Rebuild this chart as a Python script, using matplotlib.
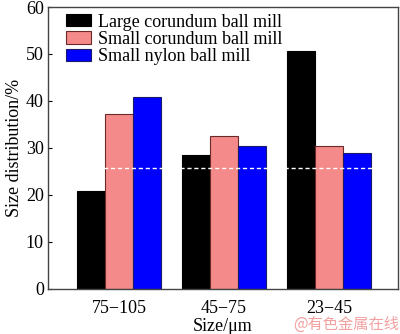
import numpy as np
import matplotlib
matplotlib.use('Agg')
import matplotlib.pyplot as plt

categories = ["75\u2212105", "45\u221275", "23\u221245"]
large_corundum = [20.8, 28.6, 50.7]
small_corundum = [37.2, 32.6, 30.4]
small_nylon = [40.8, 30.4, 28.9]
series_labels = ["Large corundum ball mill", "Small corundum ball mill", "Small nylon ball mill"]
ref_level = 25.8

plt.rcParams['font.family'] = ['Liberation Serif', 'DejaVu Serif']

fig = plt.figure(figsize=(4, 3.34), dpi=100)
ax = fig.add_axes([0.12, 0.135, 0.875, 0.844])

x = np.arange(len(categories))
w = 0.267
colors = ['#000000', '#f48a8a', '#0000ff']
edges = ['#000000', '#6a2a2a', '#1a1a6a']
for i, (vals, lab) in enumerate(zip([large_corundum, small_corundum, small_nylon], series_labels)):
    ax.bar(x + (i - 1) * w, vals, w, color=colors[i], edgecolor=edges[i], linewidth=0.8, label=lab)

# white dashed reference line drawn over the bars
ax.axhline(ref_level, color='white', linestyle=(0, (3, 2)), linewidth=1.0)

ax.set_xlim(-0.676, 2.657)
ax.set_ylim(0, 60)
ax.set_yticks(range(0, 61, 10))
ax.set_xticks(x)
ax.set_xticklabels(categories)
ax.tick_params(axis='y', direction='in', length=3, labelsize=13, pad=3)
ax.tick_params(axis='x', length=0, labelsize=13, pad=8)
for s in ax.spines.values():
    s.set_color('#444444')
    s.set_linewidth(1.0)

ax.set_xlabel("Size/\u03bcm", fontsize=13, labelpad=1)
ax.set_ylabel("Size distribution/%", fontsize=13, labelpad=2)

ax.legend(loc='upper left', bbox_to_anchor=(0.02, 1.015), frameon=False, fontsize=13,
          handlelength=1.4, handleheight=0.68, handletextpad=0.4, labelspacing=0.02,
          borderaxespad=0.2)

fig.text(0.998, 0.003, "@有色金属在线", ha='right', va='bottom', fontsize=11,
         color='#f2a0a0', family=['Noto Sans CJK SC', 'DejaVu Sans'])

fig.savefig('out.png', dpi=100)
